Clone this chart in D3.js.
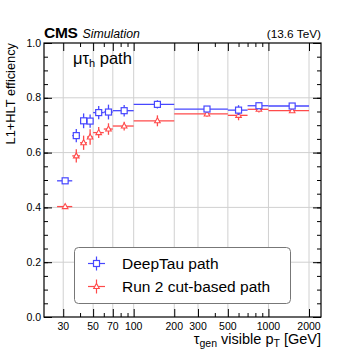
<!DOCTYPE html>
<html>
<head>
<meta charset="utf-8">
<script src="https://cdn.jsdelivr.net/npm/d3@7"></script>
<style>
  body { margin: 0; background: #fff; }
  svg { font-family: "Liberation Sans", Arial, Helvetica, sans-serif; }
</style>
</head>
<body>
<div id="chart"></div>
<script>
// bin edges in GeV
const binLo = [27, 35, 40, 45, 50, 60, 70, 100, 200, 500, 700, 1000];
const binHi = [35, 40, 45, 50, 60, 70, 100, 200, 500, 700, 1000, 2000];
const binMid = [31, 37.5, 42.5, 47.5, 55, 65, 85, 150, 350, 600, 850, 1500];

// DeepTau path
const deepEff = [0.497, 0.662, 0.716, 0.715, 0.746, 0.748, 0.753, 0.776, 0.759, 0.755, 0.771, 0.770];
const deepErr = [0.007, 0.024, 0.027, 0.024, 0.024, 0.027, 0.021, 0.015, 0.010, 0.018, 0.012, 0.007];
// Run 2 cut-based path
const run2Eff = [0.403, 0.588, 0.636, 0.657, 0.673, 0.686, 0.697, 0.716, 0.741, 0.736, 0.758, 0.753];
const run2Err = [0.006, 0.024, 0.026, 0.028, 0.020, 0.021, 0.016, 0.020, 0.010, 0.018, 0.012, 0.007];

const xMajor = [30, 50, 70, 100, 200, 300, 500, 1000, 2000];
const xMinor = [40, 60, 80, 90, 400, 600, 700, 800, 900];
const yMajor = [0, 0.2, 0.4, 0.6, 0.8, 1.0];

const width = 357, height = 357;
const padL = 44, padR = 321, padT = 43, padB = 317;

const svg = d3.select('#chart').append('svg')
  .attr('width', width)
  .attr('height', height);

const x = d3.scaleLog().domain([21.6, 2455]).range([padL, padR]);
const y = d3.scaleLinear().domain([0, 1]).range([padB, padT]);

// grid
svg.append('g').selectAll('line')
  .data(xMajor).enter().append('line')
  .attr('x1', d => x(d)).attr('x2', d => x(d))
  .attr('y1', padT).attr('y2', padB)
  .attr('stroke', '#d0d0d0').attr('stroke-width', 1);
svg.append('g').selectAll('line')
  .data(yMajor.slice(1, -1)).enter().append('line')
  .attr('x1', padL).attr('x2', padR)
  .attr('y1', d => y(d)).attr('y2', d => y(d))
  .attr('stroke', '#d0d0d0').attr('stroke-width', 1);

// axes (ticks inside, ROOT style)
const yMinorTicks = d3.range(0, 1.0001, 0.05);
const axes = svg.append('g');
axes.append('g').attr('transform', `translate(${padL},0)`)
  .call(d3.axisRight(y).tickValues(yMinorTicks).tickSize(4).tickFormat(''));
axes.append('g').attr('transform', `translate(${padL},0)`)
  .call(d3.axisRight(y).tickValues(yMajor).tickSize(8).tickFormat(''));
axes.append('g').attr('transform', `translate(${padR},0)`)
  .call(d3.axisLeft(y).tickValues(yMinorTicks).tickSize(4).tickFormat(''));
axes.append('g').attr('transform', `translate(${padR},0)`)
  .call(d3.axisLeft(y).tickValues(yMajor).tickSize(8).tickFormat(''));
axes.append('g').attr('transform', `translate(0,${padB})`)
  .call(d3.axisTop(x).tickValues(xMinor).tickSize(4).tickFormat(''));
axes.append('g').attr('transform', `translate(0,${padB})`)
  .call(d3.axisTop(x).tickValues(xMajor).tickSize(8).tickFormat(''));
axes.append('g').attr('transform', `translate(0,${padT})`)
  .call(d3.axisBottom(x).tickValues(xMinor).tickSize(4).tickFormat(''));
axes.append('g').attr('transform', `translate(0,${padT})`)
  .call(d3.axisBottom(x).tickValues(xMajor).tickSize(8).tickFormat(''));
axes.selectAll('.domain').remove();
axes.selectAll('line').attr('stroke', '#000').attr('stroke-width', 1);

svg.append('rect')
  .attr('x', padL).attr('y', padT)
  .attr('width', padR - padL).attr('height', padB - padT)
  .attr('fill', 'none').attr('stroke', '#000').attr('stroke-width', 1.2);

// tick labels
svg.append('g').selectAll('text')
  .data(yMajor).enter().append('text')
  .attr('x', padL - 3).attr('y', d => y(d) + 3.5)
  .attr('text-anchor', 'end').attr('font-size', 10.5)
  .text(d => d.toFixed(1));
svg.append('g').selectAll('text')
  .data(xMajor).enter().append('text')
  .attr('x', d => x(d)).attr('y', padB + 13)
  .attr('text-anchor', 'middle').attr('font-size', 10.5)
  .text(d => d);

// axis titles
svg.append('text')
  .attr('transform', `translate(15,${padT}) rotate(-90)`)
  .attr('text-anchor', 'end').attr('font-size', 12.8)
  .text('L1+HLT efficiency');
const xt = svg.append('text')
  .attr('x', padR).attr('y', 344)
  .attr('text-anchor', 'end').attr('font-size', 14.5);
xt.append('tspan').text('τ');
xt.append('tspan').attr('font-size', 10.5).attr('dy', 3).text('gen');
xt.append('tspan').attr('dy', -3).text(' visible p');
xt.append('tspan').attr('font-size', 10.5).attr('dy', 3).text('T');
xt.append('tspan').attr('dy', -3).text(' [GeV]');

// header
svg.append('text').attr('x', padL).attr('y', 38)
  .attr('font-size', 15.5).attr('font-weight', 'bold')
  .attr('letter-spacing', -0.3).text('CMS');
svg.append('text').attr('x', padL + 38.5).attr('y', 38)
  .attr('font-size', 12.3).attr('font-style', 'italic').text('Simulation');
svg.append('text').attr('x', padR).attr('y', 38)
  .attr('text-anchor', 'end').attr('font-size', 11.8).text('(13.6 TeV)');

const lab = svg.append('text').attr('x', 73).attr('y', 64).attr('font-size', 16.5);
lab.append('tspan').text('μτ');
lab.append('tspan').attr('font-size', 11).attr('dy', 3).text('h');
lab.append('tspan').attr('dy', -3).text(' path');

// data series
const blue = '#4747ff', red = '#ff4a4a';
function drawSeries(eff, err, color, marker) {
  const g = svg.append('g');
  binMid.forEach((m, i) => {
    g.append('line')
      .attr('x1', x(binLo[i])).attr('x2', x(binHi[i]))
      .attr('y1', y(eff[i])).attr('y2', y(eff[i]))
      .attr('stroke', color).attr('stroke-width', 1.3);
    g.append('line')
      .attr('x1', x(m)).attr('x2', x(m))
      .attr('y1', y(eff[i] - err[i])).attr('y2', y(eff[i] + err[i]))
      .attr('stroke', color).attr('stroke-width', 1.3);
    marker(g, x(m), y(eff[i]), color);
  });
}
function square(g, cx, cy, color) {
  g.append('rect').attr('x', cx - 3).attr('y', cy - 3)
    .attr('width', 6).attr('height', 6)
    .attr('fill', '#fff').attr('stroke', color).attr('stroke-width', 1.2);
}
function tri(g, cx, cy, color) {
  g.append('path')
    .attr('d', `M${cx},${cy - 3}L${cx + 2.8},${cy + 2}L${cx - 2.8},${cy + 2}Z`)
    .attr('fill', '#fff').attr('stroke', color).attr('stroke-width', 1.1);
}
drawSeries(run2Eff, run2Err, red, tri);
drawSeries(deepEff, deepErr, blue, square);

// legend
const leg = svg.append('g');
leg.append('rect')
  .attr('x', 74.5).attr('y', 247.5).attr('width', 216).attr('height', 56)
  .attr('rx', 4).attr('fill', '#fff').attr('stroke', '#777').attr('stroke-width', 1);
const legItems = [
  { name: 'DeepTau path', color: blue, marker: square },
  { name: 'Run 2 cut-based path', color: red, marker: tri }
];
legItems.forEach((d, i) => {
  const cy = 263.5 + i * 23;
  leg.append('line').attr('x1', 88).attr('x2', 105).attr('y1', cy).attr('y2', cy)
    .attr('stroke', d.color).attr('stroke-width', 1.2);
  leg.append('line').attr('x1', 96.5).attr('x2', 96.5).attr('y1', cy - 7).attr('y2', cy + 7)
    .attr('stroke', d.color).attr('stroke-width', 1.2);
  d.marker(leg, 96.5, cy, d.color);
  leg.append('text').attr('x', 122).attr('y', cy + 5.5)
    .attr('font-size', 15.5).text(d.name);
});
</script>
</body>
</html>
